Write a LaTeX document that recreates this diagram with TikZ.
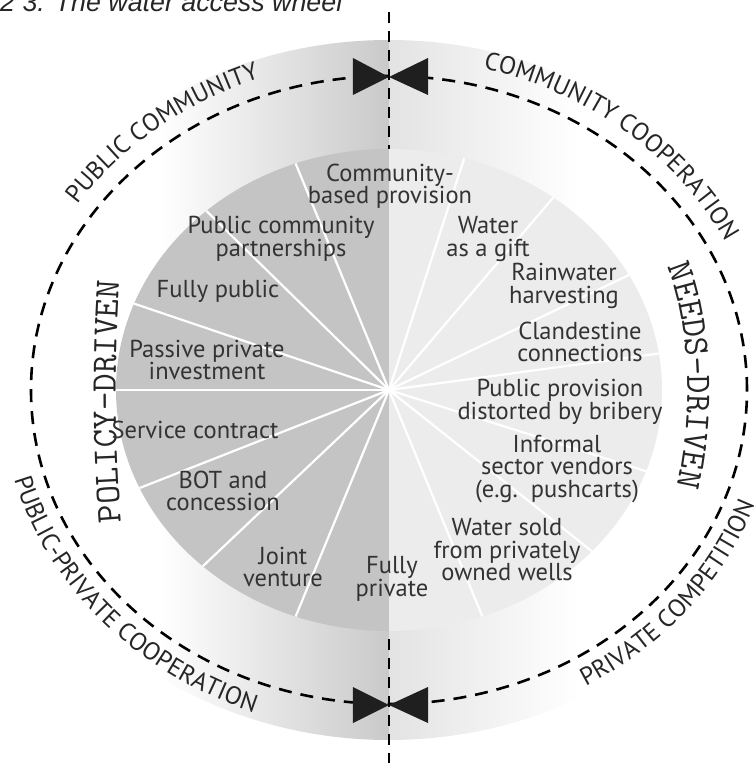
\documentclass[tikz,border=0pt]{standalone}
\usepackage{fontspec}
\usetikzlibrary{decorations.text}
\newfontfamily\labelfont{PT Sans}
\newfontfamily\captionfont{Liberation Sans}
\definecolor{diskdark}{gray}{0.77}
\definecolor{disklight}{gray}{0.925}
\definecolor{labelgray}{gray}{0.2}
\tikzset{
  sector/.style={font=\labelfont\fontsize{24.5}{22.5}\selectfont, text=labelgray, align=center, inner sep=0pt},
  spoke/.style={white, line width=2.2pt},
  ring/.style={line width=2.6pt, dash pattern=on 13pt off 9pt},
  axisline/.style={line width=2.6pt, dash pattern=on 11pt off 8pt},
  valve/.style={fill=black!88},
}
\newcommand{\ringfont}{\labelfont\fontsize{25}{25}\selectfont\color{black!85}}
\newcommand{\drivetext}{\ttfamily\fontsize{36}{36}\selectfont\color{black!85}}

\begin{document}
\begin{tikzpicture}[x=1pt, y=1pt]
    % 画布
    \clip (-389,-373) rectangle (365,390);

    % 标题
    \node[anchor=base west, inner sep=0pt, text=black!85,
          font=\captionfont\itshape\fontsize{26.8}{30}\selectfont] (title) at (-389,378)
          {2 3. The water access wheel};

    % 外圈渐变
    \begin{scope}
        \clip (0,0) ellipse [x radius=400, y radius=350];
        \shade[left color=white, right color=gray!42] (-230,-350) rectangle (0,350);
        \shade[left color=gray!22, right color=white] (0,-350) rectangle (190,350);
    \end{scope}

    % 中轴虚线
    \coordinate (axisN) at (0,378);
    \coordinate (axisS) at (0,-373);
    \draw[axisline] (axisN) -- (axisS);

    % 内圆两半
    \fill[diskdark] (0,241) arc[start angle=90, end angle=270, x radius=273, y radius=241] -- cycle;
    \fill[disklight] (0,-241) arc[start angle=-90, end angle=90, x radius=273, y radius=241] -- cycle;

    % 辐条
    \coordinate (hub) at (0,0);
    \foreach \t in {110,132,159,180,204,227,250,74,53,28.5,8.7,-19.7,-42,-70}
        \draw[spoke] (hub) -- ({273*cos(\t)},{241*sin(\t)});

    % 外圈虚线
    \draw[ring] (0,0) ellipse [x radius=358, y radius=314];

    % 阀门
    \coordinate (valveN) at (0,313);
    \coordinate (valveS) at (0,-315);
    \fill[valve] (valveN) -- ++(-36,19) -- ++(0,-37) -- cycle;
    \fill[valve] (valveN) -- ++(39,19) -- ++(0,-37) -- cycle;
    \fill[valve] (valveS) -- ++(-36,18) -- ++(0,-36) -- cycle;
    \fill[valve] (valveS) -- ++(39,18) -- ++(0,-36) -- cycle;

    % 弧形标签
    \path[decorate, decoration={text along path, text={|\ringfont|PUBLIC COMMUNITY}}]
        ({376*cos(146)},{332*sin(146)}) arc[start angle=146, end angle=92, x radius=376, y radius=332];
    \path[decorate, decoration={text along path, text={|\ringfont|COMMUNITY COOPERATION}}]
        ({376*cos(75.5)},{332*sin(75.5)}) arc[start angle=75.5, end angle=5, x radius=376, y radius=332];
    \path[decorate, decoration={text along path, text={|\ringfont|PUBLIC-PRIVATE COOPERATION}}]
        ({388*cos(195)},{344*sin(195)}) arc[start angle=195, end angle=268, x radius=388, y radius=344];
    \path[decorate, decoration={text along path, text={|\ringfont|PRIVATE COMPETITION}}]
        ({388*cos(300.5)},{344*sin(300.5)}) arc[start angle=300.5, end angle=360, x radius=388, y radius=344];

    % 两侧竖排
    \path[decorate, decoration={text along path, text={|\drivetext|POLICY-DRIVEN}}]
        (-268,-132) .. controls (-275,-45) and (-275,45) .. (-268,130);
    \path[decorate, decoration={text along path, text={|\drivetext|NEEDS-DRIVEN}}]
        (278,123) .. controls (305,60) and (305,-60) .. (278,-130);

    % 左半扇区
    \node[sector] (cbp) at (1,204) {Community-\\based provision};
    \node[sector] (pcp) at (-108,151) {Public community\\partnerships};
    \node[sector] (fpub) at (-171,99) {Fully public};
    \node[sector] (ppi) at (-182,30) {Passive private\\investment};
    \node[sector] (svc) at (-194,-40) {Service contract};
    \node[sector] (bot) at (-166,-101) {BOT and\\concession};
    \node[sector] (jv) at (-106,-177) {Joint\\venture};
    \node[sector] (fpriv) at (3,-189) {Fully\\private};

    % 右半扇区
    \node[sector] (gift) at (99,151) {Water\\as a gift};
    \node[sector] (rain) at (175,104) {Rainwater\\harvesting};
    \node[sector] (cland) at (191,48) {Clandestine\\connections};
    \node[sector] (brib) at (171,-12) {Public provision\\distorted by bribery};
    \node[sector] (vend) at (168,-79) {Informal\\sector vendors\\(e.g.\ \ pushcarts)};
    \node[sector] (wells) at (118,-160) {Water sold\\from privately\\owned wells};
\end{tikzpicture}
\end{document}
